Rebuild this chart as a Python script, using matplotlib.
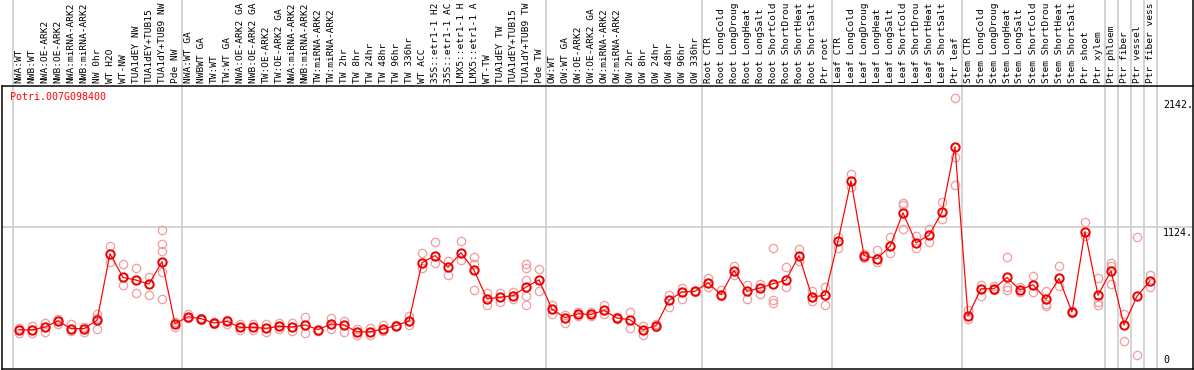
import matplotlib
matplotlib.use('Agg')
from matplotlib import pyplot as plt
from matplotlib.transforms import blended_transform_factory

gene = 'Potri.007G098400'

# sample names as shown (the chart cuts them at 14 characters)
samples = [
    'NWA:WT', 'NWB:WT', 'NWA:OE-ARK2', 'NWB:OE-ARK2', 'NWA:miRNA-ARK2', 'NWB:miRNA-ARK2',
    'NW 0hr', 'WT H2O', 'WT-NW', 'TUA1dEY NW', 'TUA1dEY+TUB15', 'TUA1dY+TUB9 NW', 'Pde NW',
    'NWA:WT GA', 'NWBWT GA', 'TW:WT', 'TW:WT GA', 'NWA:OE-ARK2 GA', 'NWB:OE-ARK2 GA',
    'TW:OE-ARK2', 'TW:OE-ARK2 GA', 'NWA:miRNA-ARK2', 'NWB:miRNA-ARK2', 'TW:miRNA-ARK2',
    'TW:miRNA-ARK2', 'TW 2hr', 'TW 8hr', 'TW 24hr', 'TW 48hr', 'TW 96hr', 'TW 336hr',
    'WT ACC', '35S::etr1-1 H2', '35S::etr1-1 AC', 'LMX5::etr1-1 H', 'LMX5::etr1-1 A',
    'WT-TW', 'TUA1dEY TW', 'TUA1dEY+TUB15', 'TUA1dY+TUB9 TW', 'Pde TW',
    'OW:WT', 'OW:WT GA', 'OW:OE-ARK2', 'OW:OE-ARK2 GA', 'OW:miRNA-ARK2', 'OW:miRNA-ARK2',
    'OW 2hr', 'OW 8hr', 'OW 24hr', 'OW 48hr', 'OW 96hr', 'OW 336hr',
    'Root CTR', 'Root LongCold', 'Root LongDroug', 'Root LongHeat', 'Root LongSalt',
    'Root ShortCold', 'Root ShortDrou', 'Root ShortHeat', 'Root ShortSalt', 'Ptr root',
    'Leaf CTR', 'Leaf LongCold', 'Leaf LongDroug', 'Leaf LongHeat', 'Leaf LongSalt',
    'Leaf ShortCold', 'Leaf ShortDrou', 'Leaf ShortHeat', 'Leaf ShortSalt', 'Ptr leaf',
    'Stem CTR', 'Stem LongCold', 'Stem LongDroug', 'Stem LongHeat', 'Stem LongSalt',
    'Stem ShortCold', 'Stem ShortDrou', 'Stem ShortHeat', 'Stem ShortSalt',
    'Ptr shoot', 'Ptr xylem', 'Ptr phloem', 'Ptr fiber', 'Ptr vessel', 'Ptr fiber vess',
]

means = [
    301, 301, 324, 372, 311, 311, 377, 908, 719, 698, 666, 845, 350,
    406, 390, 356, 369, 321, 321, 313, 329, 324, 340, 303, 348, 340, 285, 285, 308, 335, 372,
    837, 893, 800, 916, 777, 548, 561, 574, 642, 700,
    466, 398, 429, 424, 456, 395, 382, 303, 335, 537, 603, 608,
    676, 582, 774, 608, 635, 669, 698, 893, 563, 577,
    1008, 1489, 893, 869, 966, 1234, 995, 1055, 1240, 1761,
    411, 629, 629, 719, 619, 661, 545, 711, 443,
    1084, 577, 771, 340, 569, 692,
]

replicates = [
    [313, 272], [332, 272], [358, 287], [384, 350], [350, 293], [324, 282],
    [424, 398, 311], [971, 845], [824, 656], [798, 595], [724, 577],
    [1098, 982, 932, 766, 545], [324, 362],
    [424, 398], [398, 382], [364, 348], [382, 350], [350, 300], [345, 300],
    [350, 285], [356, 308], [356, 290], [403, 277], [290, 298], [392, 305],
    [372, 282], [311, 264], [316, 264], [340, 290], [340, 330], [408, 337],
    [916, 792], [998, 837], [850, 740], [1011, 861], [885, 824, 616],
    [595, 503], [595, 522], [606, 548], [829, 792, 695, 569, 498], [785, 608],
    [503, 429], [419, 356], [412, 440], [440, 410], [498, 424], [400, 390],
    [443, 316], [329, 258], [350, 325], [582, 487], [635, 550], [608, 600],
    [714, 642], [616, 570], [811, 740], [656, 550], [669, 590], [956, 542, 516],
    [806, 640], [945, 850], [613, 530], [642, 503],
    [1043, 950], [1542, 1437], [905, 870], [935, 845], [1040, 915],
    [1313, 1298, 1103], [1050, 950], [1108, 998], [1319, 1187], [2148, 1682, 1455],
    [456, 384], [661, 569], [650, 615], [879, 640, 621], [640, 600], [729, 603],
    [608, 508, 490], [814, 648], [450, 435],
    [1161, 1050], [714, 524, 503], [832, 814, 666], [429, 214], [1043, 103], [735, 640],
]

# group boundaries (between sample indices)
separators = [-0.5, 12.5, 40.5, 52.5, 62.5, 72.5, 83.5, 84.5, 85.5, 86.5, 87.5]
ytick_vals = [2142, 1124, 0]
ytick_labels = ['2142.', '1124.', '0']

W, H = 1194, 370
fig = plt.figure(figsize=(W / 100, H / 100), dpi=100)
font = 'DejaVu Sans Mono'
fs = 7.2
px = 0.72  # one pixel in points

x_lo = (1.5 - 19) / 13
x_hi = (1193 - 19) / 13
ax_left = 1.5 / W
ax_w = (1193 - 1.5) / W

ax = fig.add_axes([ax_left, 1 / H, ax_w, 283 / H])
top = fig.add_axes([ax_left, 285 / H, ax_w, 85 / H])

x = list(range(len(samples)))

# replicate points
for i, reps in enumerate(replicates):
    ax.plot([i] * len(reps), reps, linestyle='none', marker='o', markersize=6,
            markerfacecolor='none', markeredgecolor='#f0a0a0', markeredgewidth=1.3 * px,
            zorder=2, clip_on=False)

ax.plot(x, means, color='#ff0000', linewidth=1.2 * px, marker='o', markersize=6,
        markerfacecolor='none', markeredgecolor='#ee0000', markeredgewidth=2 * px, zorder=3)

ax.set_xlim(x_lo, x_hi)
ax.set_ylim(-11, 2245)
ax.axhline(1124, color='#c8c8c8', linewidth=1.5 * px, zorder=1)
for s in separators:
    ax.axvline(s, color='#c8c8c8', linewidth=1.5 * px, zorder=1)
    top.axvline(s, color='#c8c8c8', linewidth=1.5 * px, zorder=1)

ax.set_xticks([])
ax.set_yticks([])
for sp in ax.spines.values():
    sp.set_linewidth(1.5 * px)
    sp.set_color('black')

# y labels on the right
for v, lab in zip(ytick_vals, ytick_labels):
    va = 'bottom' if v == 0 else 'top'
    off = 2 if v == 0 else -1
    ax.annotate(lab, xy=(1163 / W, v), xycoords=('figure fraction', 'data'),
                xytext=(0, off), textcoords='offset points',
                ha='left', va=va, fontsize=fs, family=font, color='black')

fig.text(10 / W, (H - 92) / H, gene, ha='left', va='top',
         fontsize=fs, family=font, color='#ff0000')

# rotated sample labels
top.set_xlim(x_lo, x_hi)
top.set_ylim(0, 1)
top.set_xticks([])
top.set_yticks([])
for k, sp in top.spines.items():
    sp.set_visible(k == 'right')
    sp.set_linewidth(1.5 * px)
trans = blended_transform_factory(top.transData, fig.transFigure)
for i, lab in enumerate(samples):
    top.text(i, (H - 83) / H, lab, transform=trans, rotation=90, ha='center', va='bottom',
             fontsize=6.8, family=font, color='black')

fig.savefig('out.png', dpi=100)
